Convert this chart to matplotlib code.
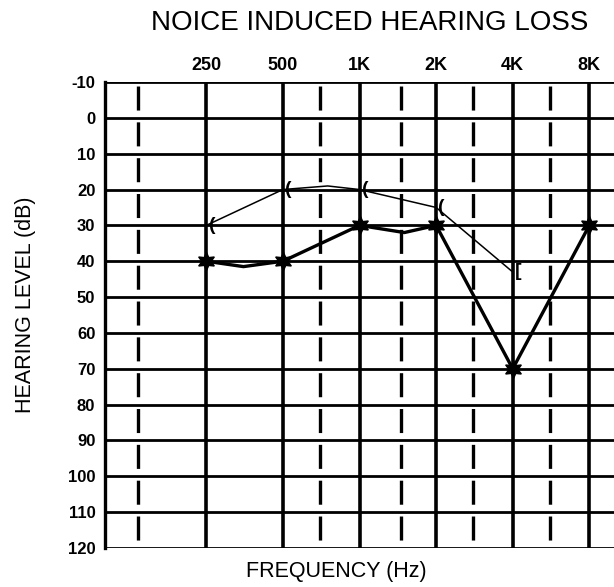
import matplotlib
matplotlib.use("Agg")
import matplotlib.pyplot as plt
from matplotlib.ticker import FixedLocator, NullLocator

plt.rcParams['font.family'] = ['Liberation Sans', 'DejaVu Sans']
plt.rcParams['lines.scale_dashes'] = False

# ---------- data ----------
octave_freqs = [250, 500, 1000, 2000, 4000, 8000]
octave_labels = ["250", "500", "1K", "2K", "4K", "8K"]
half_freqs = [135, 700, 1450, 2800, 5600]          # dashed in-between columns
db_levels = list(range(-10, 130, 10))

# thin trace (bone conduction, "(" symbols)
thin_freq = [250, 500, 750, 1000, 2000, 4000]
thin_db = [30, 20, 19, 20, 25, 43]
thin_mark_freq = [250, 500, 1000, 2000, 4000]
thin_mark_db = [30, 20, 20, 25, 43]
thin_mark_sym = ["(", "(", "(", "(", "["]

# thick trace (air conduction)
thick_freq = [250, 350, 500, 1000, 1500, 2000, 4000, 8000]
thick_db = [40, 41.5, 40, 30, 32, 30, 70, 30]
thick_mark_freq = [250, 500, 1000, 2000, 4000, 8000]
thick_mark_db = [40, 40, 30, 30, 70, 30]

# ---------- figure ----------
fig = plt.figure(figsize=(6.14, 5.87), dpi=100)
ax = fig.add_axes([105 / 614, 39 / 587, 1 - 105 / 614, 466 / 587])
ax.set_xscale("log")
ax.set_xlim(100, 10000)
ax.set_ylim(120, -10)

# grid
for f in octave_freqs:
    ax.plot([f, f], [-10, 120], color="black", lw=2.6, solid_capstyle="butt", zorder=1)
for f in half_freqs:
    ax.plot([f, f], [-10, 120], color="black", lw=2.4,
            linestyle=(22.9, (17.3, 8.5)), dash_capstyle="butt", zorder=1)
for d in db_levels:
    ax.axhline(d, color="black", lw=2.0, zorder=1)

for side in ["top", "bottom", "right"]:
    ax.spines[side].set_visible(False)
ax.spines["left"].set_linewidth(2.4)

# traces
ax.plot(thin_freq, thin_db, color="black", lw=1.1, zorder=3)
for f, d, s in zip(thin_mark_freq, thin_mark_db, thin_mark_sym):
    ax.annotate(s, (f, d), xytext=(4, 0), textcoords="offset points",
                ha="center", va="center", fontsize=14, fontweight="bold", zorder=4)

ax.plot(thick_freq, thick_db, color="black", lw=2.4, zorder=3)
ax.plot(thick_mark_freq, thick_mark_db, linestyle="none", marker=(6, 1, 0),
        markersize=13, color="black", zorder=4)

# ticks
ax.xaxis.set_major_locator(FixedLocator(octave_freqs))
ax.xaxis.set_minor_locator(NullLocator())
ax.set_xticklabels(octave_labels)
ax.xaxis.tick_top()
ax.tick_params(axis="x", length=0, pad=6, labelsize=13)
for t in ax.get_xticklabels():
    t.set_fontweight("bold")

ax.set_yticks(db_levels)
ax.set_yticklabels([str(d) for d in db_levels])
ax.tick_params(axis="y", length=0, pad=7, labelsize=12)
for t in ax.get_yticklabels():
    t.set_fontweight("bold")

fig.text(370 / 614, 1 - 23 / 587, "NOICE INDUCED HEARING LOSS",
         ha="center", va="center", fontsize=20)
fig.text(336 / 614, 1 - 572 / 587, "FREQUENCY (Hz)",
         ha="center", va="center", fontsize=15.5)
fig.text(26 / 614, 1 - 305 / 587, "HEARING LEVEL (dB)",
         ha="center", va="center", rotation=90, fontsize=15.5)

fig.savefig("out.png", dpi=100)
